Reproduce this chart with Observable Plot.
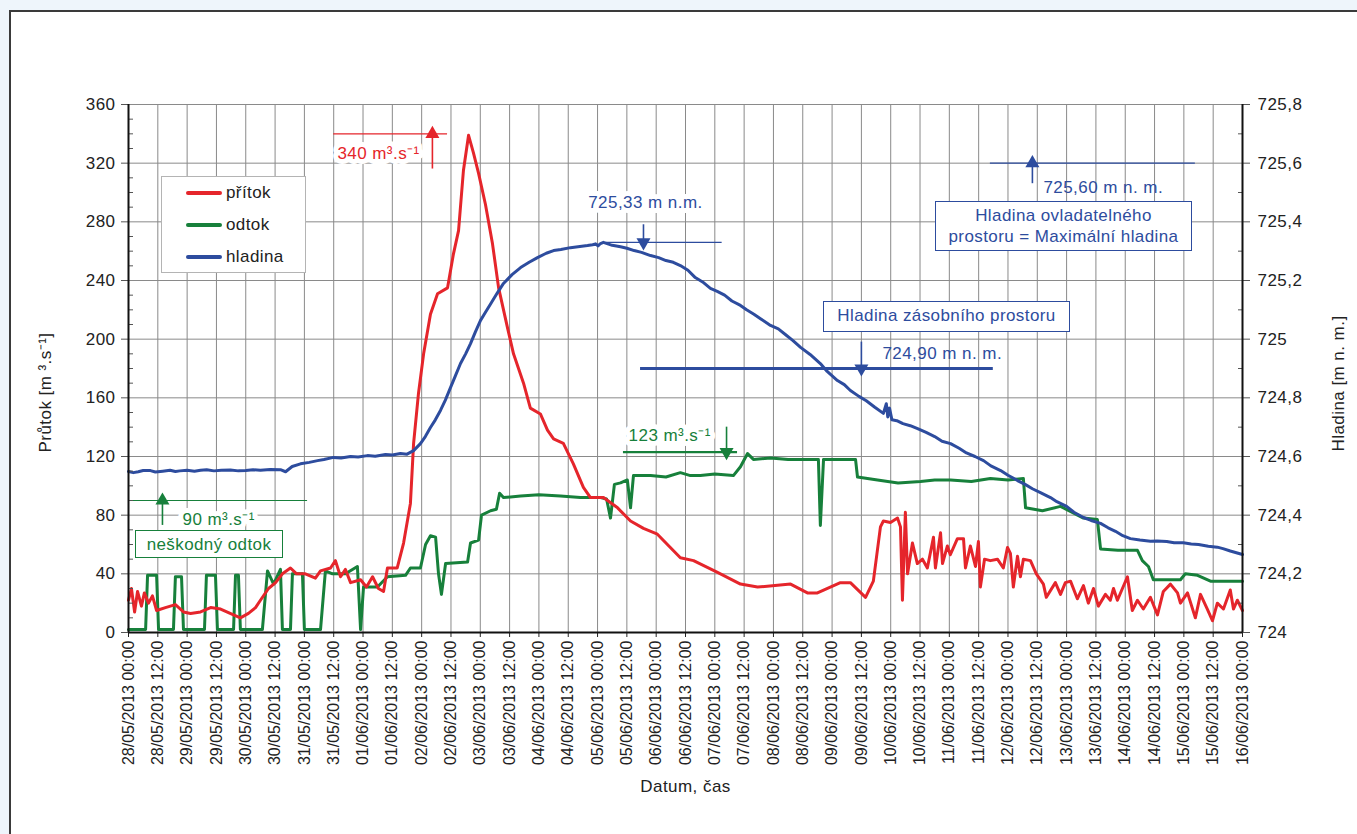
<!DOCTYPE html>
<html><head><meta charset="utf-8">
<script src="https://cdn.jsdelivr.net/npm/d3@7"></script>
<script src="https://cdn.jsdelivr.net/npm/@observablehq/plot@0.6"></script>
<style>
html,body{margin:0;padding:0;width:1357px;height:834px;overflow:hidden;background:#eef5fb;font-family:"Liberation Sans",Arial,sans-serif;}
#panel{position:absolute;left:9px;top:10px;width:1400px;height:900px;background:#fff;border:2px solid #3a3a3a;box-sizing:border-box;}
#chart{position:absolute;left:0;top:0;}
#chart svg text{letter-spacing:0.45px;}
#chart svg g[aria-label="x-axis tick label"] text{letter-spacing:0;}
.box{position:absolute;background:#fff;font-size:17px;letter-spacing:0.4px;text-align:center;box-sizing:border-box;line-height:21px;}
#legend{position:absolute;left:161px;top:176px;width:145px;height:97px;background:#fff;border:1px solid #b4b4b4;box-sizing:border-box;font-size:17px;letter-spacing:0.4px;color:#222;}
#legend .row{position:absolute;left:24px;height:20px;display:flex;align-items:center;}
#legend .sw{width:36px;height:4px;border-radius:2px;margin-right:4px;}
</style></head>
<body>
<div id="panel"></div>
<div id="chart"></div>
<script>
// ---------- DATA ----------
// time in hours from 28/05/2013 00:00
const pritokHours = [0,1.2,2.5,3.7,5.3,6.5,8.2,9.8,11.5,15.1,19.2,22.5,25.4,29.5,33.6,37.7,43,45.8,49.1,52,54,57.3,60.2,63,66.3,68.8,72.4,76.5,78.6,82.7,84.7,86.8,88.8,90.9,95,97.4,99.9,102.3,104.4,106,110,112.6,115.4,116.7,118.7,120.8,123.6,126.5,130.6,133,135.1,137.1,139.2,141.2,143.3,146.1,149,151.5,155.1,157.6,161.7,164.5,168.6,171.5,174,178,182.1,186.2,189.1,194.4,200.2,205.5,210.8,216.5,225.9,231.3,241.1,250.5,257.5,271,277.9,282,291.4,295.5,301.7,304.9,307.8,309,311.9,314.8,316,316.8,318,318.9,320.9,322.9,325,327,329.5,330.3,332.4,333.2,335.2,336.4,339.3,341.8,342.6,344.6,346.7,347.9,348.7,350.4,352.8,355.7,358.1,359.8,361,362.2,363.9,365.1,366.3,369.2,371.6,374.5,375.7,379.4,381.5,383.5,385.6,388.4,390.9,392.9,395,397,399.9,401.9,403.2,404.8,408.9,410.9,413,415.4,418.3,421.2,423.6,426.5,429.4,430.6,433.5,436.7,438.8,441.6,443.7,445.7,448.2,451,452.3,453.9,456];
const pritokValues = [22,30,14,28,18,27,20,25,15,17,19,14,13,14,17,16,12,10,13,17,22,30,34,40,44,40,40,37,42,44,49,38,43,34,36,31,38,30,28,44,44,61,88,129,163,190,217,231,235,258,274,315,339,327,313,292,265,235,208,190,170,153,149,138,132,129,115,99,92,92,85,76,71,67,51,49,41,33,31,33,27,27,34,34,24,35,72,76,75,78,72,22,82,40,61,47,50,44,65,44,68,47,59,53,64,64,44,59,45,62,31,50,49,50,44,58,54,31,52,38,50,49,40,33,24,34,26,34,35,23,32,20,30,18,26,22,30,22,38,15,22,16,24,12,28,33,27,20,27,10,26,16,8,20,16,29,16,22,15];

const odtokHours = [0,7,7.8,11.5,12.3,18.4,19.2,21.7,22.5,31.1,31.9,35.6,36.4,43,43.8,45,45.8,54.8,56.9,59.4,62.2,63,66.3,67.1,71.2,72,78.6,80.6,83.5,88.8,93.7,95,96.2,101.9,106,113.4,115.4,119.5,121.6,123.6,125.7,126.9,128.1,129.8,138.8,140,143.3,144.5,148.2,150.6,151.9,153.5,160.5,168,176.8,185,193.2,195.7,197.3,198.9,201.4,204.2,205.5,206.7,213.7,220,225.9,230,234.1,240,247.6,250.5,253.4,255.8,262.8,270,282.4,283.2,284.5,297.6,298.4,306.6,315,324.2,330,336.5,345,352.8,360,366.3,367.2,374.1,381.5,390.9,396.6,397.9,405,413,415,417.5,419.5,425,430.6,432.6,437.6,442.9,450,456];
const odtokValues = [2,2,39,39,2,2,38,38,2,2,39,39,2,2,39,39,2,2,42,33,43,2,2,40,40,2,2,42,40,40,45,2,31,31,38,39,44,44,60,66,65,40,26,47,48,61,63,80,83,84,95,92,93,94,93,92,92,91,78,101,102,104,85,107,107,106,109,107,107,108,107,113,122,118,119,118,118,73,118,118,106,104,102,103,104,104,103,105,104,105,85,83,86,78,77,57,56,56,49,45,36,36,36,40,39,35,35,35];

const hladinaHours = [0,2,4,6,9,11,14,17,19.2,21,24,27,29.5,32,35,38,41.7,45,48,51,54,58,62.2,64.3,67,70.4,74,77.4,80,83.9,87,90.9,94,97.8,101,105.2,108,111.3,114,116.7,119.5,121.5,123.6,125.6,127.7,129.7,131.8,133.8,135.9,138,140,142,144.1,146,148.2,151,153.5,157,160.5,164,167.4,171,174,177,180.9,184,187.9,190,191.2,192.2,193.2,194.4,198,201.4,204,207,210,213.7,217,220,223,225.9,229,232,235,238.2,241,244,247,250.5,253,256,259,262.8,266,269,272,275.1,279,283.2,286,290.2,293,295.5,299,302,305.5,309,310.2,310.8,311.5,312.5,314.5,317,320,323,326.5,330,333,336.5,340,343,346.5,350,353,357,360,363.9,367,370,373.5,377.4,380,384,387,390.9,394,397.9,401,404,407,410.1,414,418.3,421,425,428,431.8,435,438,442,445.7,448,451,453.5,456];
const hladinaValues = [724.549,724.545,724.548,724.552,724.552,724.547,724.550,724.553,724.549,724.551,724.553,724.550,724.553,724.555,724.551,724.553,724.554,724.551,724.552,724.555,724.553,724.556,724.555,724.548,724.566,724.575,724.580,724.586,724.590,724.597,724.595,724.600,724.598,724.603,724.601,724.607,724.605,724.610,724.608,724.620,724.644,724.668,724.699,724.725,724.757,724.792,724.835,724.875,724.917,724.950,724.985,725.025,725.064,725.090,725.120,725.158,725.190,725.220,725.244,725.262,725.278,725.293,725.302,725.306,725.312,725.315,725.319,725.322,725.325,725.318,725.326,725.330,725.320,725.315,725.310,725.302,725.296,725.285,725.278,725.268,725.262,725.251,725.235,725.210,725.195,725.173,725.163,725.150,725.130,725.115,725.100,725.085,725.068,725.047,725.035,725.015,724.995,724.972,724.948,724.917,724.890,724.859,724.845,724.825,724.805,724.790,724.768,724.747,724.780,724.735,724.765,724.725,724.722,724.712,724.705,724.695,724.682,724.668,724.652,724.644,724.628,724.612,724.600,724.586,724.568,724.552,724.536,724.518,724.505,724.490,724.476,724.460,724.446,724.430,724.410,724.392,724.382,724.372,724.357,724.345,724.330,724.320,724.315,724.311,724.312,724.310,724.306,724.306,724.302,724.300,724.294,724.291,724.286,724.278,724.272,724.266];

// reference marks (annotations)
const annLabels   = ["340 m³.s⁻¹", "725,33 m n.m.", "725,60 m n. m.", "724,90 m n. m.", "123 m³.s⁻¹", "90 m³.s⁻¹"];
const annSeries   = ["přítok", "hladina", "hladina", "hladina", "odtok", "odtok"];
const annValues   = [340, 725.33, 725.60, 724.90, 123, 90];
const annFromHour = [84, 195.5, 352.8, 209.6, 202.6, 0];
const annToHour   = [130.6, 243, 436.7, 354, 249.3, 73.3];
const annArrowHour= [124.4, 210.8, 370, 300, 244.8, 13.9];
const annArrowTail= [316, 725.39, 725.53, 724.99, 140, 73];
const annTextHour = [85.5, 211.6, 374.5, 308.6, 204.7, 22.1];
const annTextValue= [326.5, 725.466, 725.517, 724.951, 134, 77];

const flowTicks = [0,40,80,120,160,200,240,280,320,360];
const levelTicks = [724,724.2,724.4,724.6,724.8,725,725.2,725.4,725.6,725.8];

// ---------- BUILD ----------
const T0 = Date.UTC(2013, 4, 28);
const toDate = h => new Date(T0 + h * 3600e3);
const levelToFlow = v => (v - 724) * 200;
const colors = {"přítok": "#e5252b", "odtok": "#17803b", "hladina": "#2d4c9e"};

const pritok = pritokHours.map((h, i) => ({t: toDate(h), v: pritokValues[i]}));
const odtok = odtokHours.map((h, i) => ({t: toDate(h), v: odtokValues[i]}));
const hladina = hladinaHours.map((h, i) => ({t: toDate(h), v: levelToFlow(hladinaValues[i])}));

const annAnchor = ["start", "middle", "start", "start", "start", "start"];
const annWidth = [1.2, 1.3, 1.2, 3.2, 2.2, 1.2];
const annHalo = [true, true, false, false, true, true];
const ann = annLabels.map((label, i) => {
  const conv = annSeries[i] === "hladina" ? levelToFlow : (v => v);
  const y = conv(annValues[i]), tail = conv(annArrowTail[i]);
  return {label, color: colors[annSeries[i]], x1: toDate(annFromHour[i]), x2: toDate(annToHour[i]), y,
    ax: toDate(annArrowHour[i]), tail, up: tail < y, tx: toDate(annTextHour[i]), ty: conv(annTextValue[i]),
    anchor: annAnchor[i], halo: annHalo[i], w: annWidth[i]};
});

const xTicks = d3.range(0, 457, 12).map(toDate);
const minorLeft = d3.range(0, 361, 10).filter(v => v % 40 !== 0);
const minorRight = d3.range(0, 361, 20).filter(v => v % 40 !== 0);
const fmtLevel = v => String(+(724 + v / 200).toFixed(1)).replace(".", ",");
const grid = "#8a8a8a";

const annText = (anchor, opts) => Plot.text(ann.filter(d => d.anchor === anchor && (!opts.haloOnly || d.halo)),
  {x: "tx", y: "ty", text: "label", textAnchor: anchor, fontSize: 17, ...opts.style});

const plot = Plot.plot({
  width: 1357, height: 834,
  marginLeft: 128, marginRight: 115, marginTop: 104, marginBottom: 202,
  style: {background: "transparent", fontFamily: "'Liberation Sans', Arial, sans-serif", fontSize: "17px", color: "#222"},
  x: {type: "utc", domain: [toDate(0), toDate(456)]},
  y: {domain: [0, 360]},
  marks: [
    Plot.gridX(xTicks, {stroke: grid, strokeOpacity: 1, strokeWidth: 1}),
    Plot.gridY(flowTicks, {stroke: grid, strokeOpacity: 1, strokeWidth: 1}),
    // label halos (white background)
    annText("start", {haloOnly: true, style: {fill: "white", stroke: "white", strokeWidth: 10}}),
    annText("middle", {haloOnly: true, style: {fill: "white", stroke: "white", strokeWidth: 10}}),
    // reference lines and arrows
    ...ann.map(d => Plot.ruleY([d], {x1: "x1", x2: "x2", y: "y", stroke: d.color, strokeWidth: d.w})),
    Plot.ruleX(ann, {x: "ax", y1: "tail", y2: "y", stroke: "color", strokeWidth: 1.6}),
    Plot.dot(ann, {x: "ax", y: "y", symbol: "triangle", r: 5.2, fill: "color", stroke: "none",
      rotate: d => d.up ? 0 : 180}),
    annText("start", {style: {fill: "color"}}),
    annText("middle", {style: {fill: "color"}}),
    // series
    Plot.line(odtok, {x: "t", y: "v", stroke: colors["odtok"], strokeWidth: 3, strokeLinejoin: "round"}),
    Plot.line(pritok, {x: "t", y: "v", stroke: colors["přítok"], strokeWidth: 3, strokeLinejoin: "round"}),
    Plot.line(hladina, {x: "t", y: "v", stroke: colors["hladina"], strokeWidth: 3, strokeLinejoin: "round"}),
    // axes
    Plot.axisX(xTicks, {tickRotate: -90, tickFormat: d3.utcFormat("%d/%m/%Y %H:%M"), tickSize: 5, tickPadding: 3,
      fontSize: 16, label: null, stroke: "#222"}),
    Plot.axisY(flowTicks, {anchor: "left", tickSize: 7, tickPadding: 6, fontSize: 17, label: null, stroke: "#555"}),
    Plot.axisY(minorLeft, {anchor: "left", tickSize: -5, tickFormat: () => "", label: null, stroke: "#555"}),
    Plot.axisY(flowTicks, {anchor: "right", tickSize: 7, tickPadding: 8, tickFormat: fmtLevel, fontSize: 17, label: null, stroke: "#555"}),
    Plot.axisY(minorRight, {anchor: "right", tickSize: -5, tickFormat: () => "", label: null, stroke: "#555"}),
    Plot.ruleX([toDate(0), toDate(456)], {stroke: "#111", strokeWidth: 2}),
    Plot.ruleY([0], {stroke: "#111", strokeWidth: 2}),
    // axis titles
    Plot.text(["Průtok [m ³.s⁻¹]"], {frameAnchor: "left", textAnchor: "middle", dx: -83, dy: 24, rotate: -90, fontSize: 17, fill: "#222"}),
    Plot.text(["Hladina [m n. m.]"], {frameAnchor: "right", textAnchor: "middle", dx: 96, dy: 15, rotate: -90, fontSize: 17, fill: "#222"}),
    Plot.text(["Datum, čas"], {frameAnchor: "bottom", textAnchor: "middle", dy: 159, fontSize: 17, fill: "#222"})
  ]
});
document.getElementById("chart").appendChild(plot);

// legend
const legend = document.createElement("div");
legend.id = "legend";
["přítok", "odtok", "hladina"].forEach((name, i) => {
  const row = document.createElement("div");
  row.className = "row";
  row.style.top = (6 + i * 32) + "px";
  row.innerHTML = `<div class="sw" style="background:${colors[name]}"></div><span>${name}</span>`;
  legend.appendChild(row);
});
document.body.appendChild(legend);

// text boxes
const boxes = [
  {text: "neškodný odtok", left: 135, top: 530, w: 148, h: 28, color: colors["odtok"]},
  {text: "Hladina ovladatelného<br>prostoru = Maximální hladina", left: 935, top: 201, w: 257, h: 50, color: colors["hladina"]},
  {text: "Hladina zásobního prostoru", left: 823, top: 301, w: 247, h: 31, color: colors["hladina"]}
];
boxes.forEach(b => {
  const d = document.createElement("div");
  d.className = "box";
  Object.assign(d.style, {left: b.left + "px", top: b.top + "px", width: b.w + "px", height: b.h + "px",
    border: `1.5px solid ${b.color}`, color: b.color, paddingTop: "3px"});
  d.innerHTML = b.text;
  document.body.appendChild(d);
});
</script>
</body></html>
